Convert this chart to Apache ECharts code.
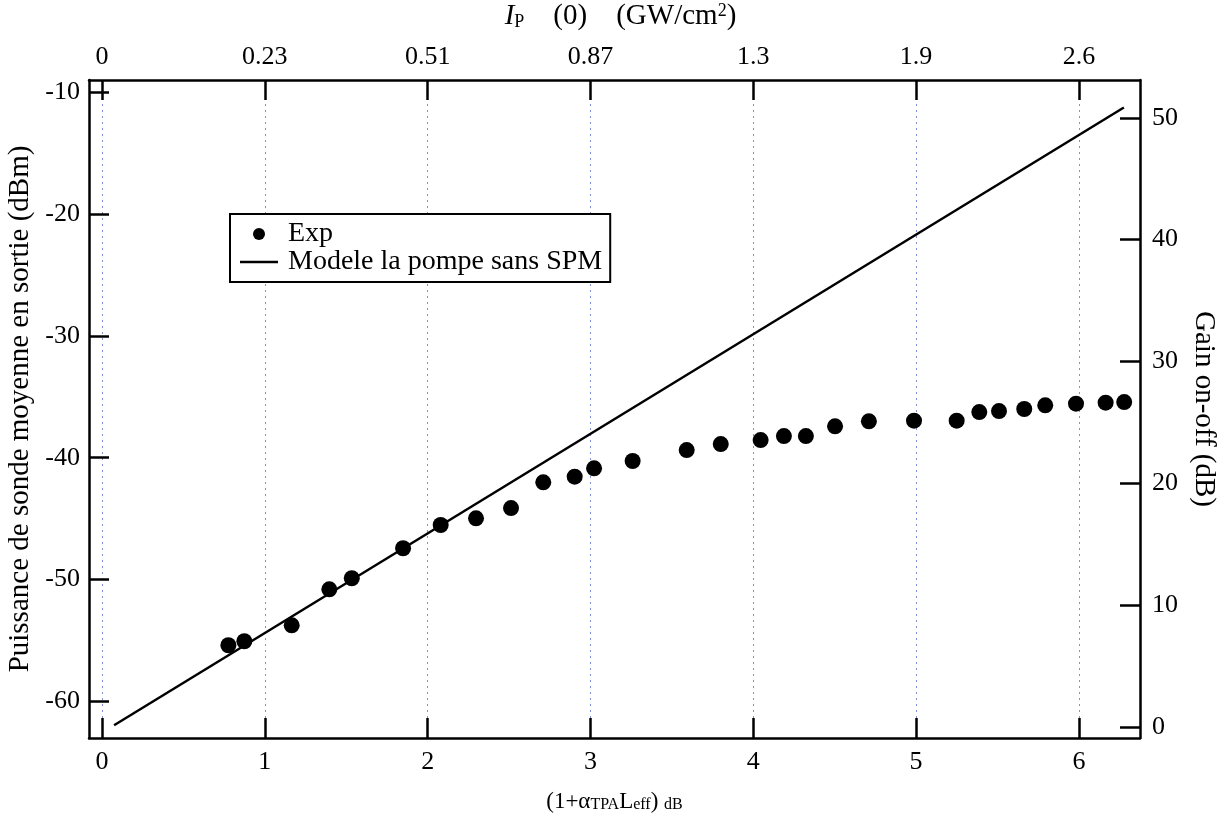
<!DOCTYPE html>
<html>
<head>
<meta charset="utf-8">
<script src="https://cdn.jsdelivr.net/npm/echarts@6/dist/echarts.min.js"></script>
<style>
html,body{margin:0;padding:0;background:#fff;}
#c{width:1224px;height:816px;}
</style>
</head>
<body>
<div id="c"></div>
<script>
// ---- data ----
const xTicks = [0, 1, 2, 3, 4, 5, 6];
const topTickLabels = ['0', '0.23', '0.51', '0.87', '1.3', '1.9', '2.6'];
const leftTicks = [-60, -50, -40, -30, -20, -10];
const rightTicks = [0, 10, 20, 30, 40, 50];

const expX = [0.776, 0.874, 1.165, 1.396, 1.534, 1.849, 2.080, 2.297, 2.512, 2.710,
              2.903, 3.022, 3.259, 3.591, 3.800, 4.045, 4.188, 4.323, 4.502, 4.710,
              4.987, 5.249, 5.388, 5.509, 5.664, 5.793, 5.982, 6.164, 6.278];
const expP = [-55.39, -55.06, -53.75, -50.80, -49.89, -47.43, -45.52, -44.97, -44.13, -42.02,
              -41.55, -40.87, -40.27, -39.37, -38.88, -38.55, -38.22, -38.22, -37.42, -37.01,
              -36.96, -36.96, -36.25, -36.17, -36.00, -35.70, -35.56, -35.48, -35.43];

const modelX = [0.074, 6.276];
const modelP = [-61.95, -11.26];

const seriesNames = ['Exp', 'Modele la pompe sans SPM'];

// ---- build ----
const FONT = 'Liberation Serif';
const expData = expX.map((x, i) => [x, expP[i]]);
const modelData = modelX.map((x, i) => [x, modelP[i]]);

const axisLineStyle = { show: true, lineStyle: { color: '#000', width: 2.5 } };
const tickStyle = (vals) => ({ show: true, inside: true, length: 20, customValues: vals, lineStyle: { color: '#000', width: 2.5 } });
const labelBase = { color: '#000', fontFamily: FONT, fontSize: 26 };

const chart = echarts.init(document.getElementById('c'), null, { renderer: 'canvas' });
chart.setOption({
  animation: false,
  backgroundColor: '#fff',
  grid: { left: 89, right: 84, top: 80, bottom: 78, containLabel: false, outerBoundsMode: 'none' },
  legend: {
    orient: 'vertical',
    left: 230, top: 214,
    backgroundColor: '#fff',
    borderColor: '#000', borderWidth: 2, borderRadius: 0,
    padding: [6, 8, 6, 10],
    itemGap: 0,
    itemWidth: 38, itemHeight: 12,
    textStyle: { color: '#000', fontFamily: FONT, fontSize: 28, lineHeight: 26, padding: [0, 0, 0, 5] },
    data: [
      { name: seriesNames[0], icon: 'circle', itemStyle: { color: '#000', opacity: 1 } },
      { name: seriesNames[1], icon: 'path://M0,0h0.01v0.01h-0.01z M0,4.75h38v2.5h-38z M0,11.99h0.01v0.01h-0.01z', itemStyle: { color: '#000' } }
    ]
  },
  xAxis: [
    {
      type: 'value', position: 'bottom', min: -0.08, max: 6.375,
      axisLine: { ...axisLineStyle, onZero: false },
      axisTick: tickStyle(xTicks),
      axisLabel: { ...labelBase, margin: 11, customValues: xTicks },
      splitLine: { show: true, lineStyle: { color: '#7f90d4', width: 1, type: [2, 4] } },
      name: '(1+α{s|TPA}L{s|eff}) {s|dB}',
      nameLocation: 'middle', nameGap: 52,
      nameTextStyle: {
        color: '#000', fontFamily: FONT, fontSize: 23,
        rich: { s: { fontFamily: FONT, fontSize: 16, color: '#000', verticalAlign: 'bottom' } }
      }
    },
    {
      type: 'value', position: 'top', min: -0.08, max: 6.375,
      axisLine: { ...axisLineStyle, onZero: false },
      axisTick: tickStyle(xTicks),
      axisLabel: {
        ...labelBase, margin: 10, customValues: xTicks,
        formatter: (v) => topTickLabels[xTicks.indexOf(Math.round(v))]
      },
      splitLine: { show: false },
      name: '{i|I}{sub|P}    (0)    (GW/cm{sup|2})',
      nameLocation: 'middle', nameGap: 49,
      nameTextStyle: {
        color: '#000', fontFamily: FONT, fontSize: 29, padding: [0, 0, 0, 12],
        rich: {
          i: { fontFamily: FONT, fontSize: 29, fontStyle: 'italic', color: '#000' },
          sub: { fontFamily: FONT, fontSize: 18, color: '#000', verticalAlign: 'bottom', padding: [10, 0, 0, 0] },
          sup: { fontFamily: FONT, fontSize: 18, color: '#000', verticalAlign: 'top' }
        }
      }
    }
  ],
  yAxis: [
    {
      type: 'value', position: 'left', min: -63, max: -9,
      axisLine: { ...axisLineStyle, onZero: false },
      axisTick: tickStyle(leftTicks),
      axisLabel: { ...labelBase, margin: 9, customValues: leftTicks },
      splitLine: { show: false },
      name: 'Puissance de sonde moyenne en sortie (dBm)',
      nameLocation: 'middle', nameGap: 53, nameRotate: 90,
      nameTextStyle: { color: '#000', fontFamily: FONT, fontSize: 29 }
    },
    {
      type: 'value', position: 'right', min: -0.9, max: 53.1,
      axisLine: { ...axisLineStyle, onZero: false },
      axisTick: tickStyle(rightTicks),
      axisLabel: { ...labelBase, margin: 12, customValues: rightTicks },
      splitLine: { show: false },
      name: 'Gain on-off (dB)',
      nameLocation: 'middle', nameGap: 47, nameRotate: -90,
      nameTextStyle: { color: '#000', fontFamily: FONT, fontSize: 29 }
    }
  ],
  series: [
    {
      name: seriesNames[0], type: 'scatter', xAxisIndex: 0, yAxisIndex: 0,
      data: expData, symbol: 'circle', symbolSize: 16,
      itemStyle: { color: '#000', opacity: 1 }, z: 4
    },
    {
      name: seriesNames[1], type: 'line', xAxisIndex: 0, yAxisIndex: 0,
      data: modelData, symbol: 'none', showSymbol: false,
      lineStyle: { color: '#000', width: 2.5 }, itemStyle: { color: '#000' }, z: 3
    }
  ]
});
</script>
</body>
</html>
